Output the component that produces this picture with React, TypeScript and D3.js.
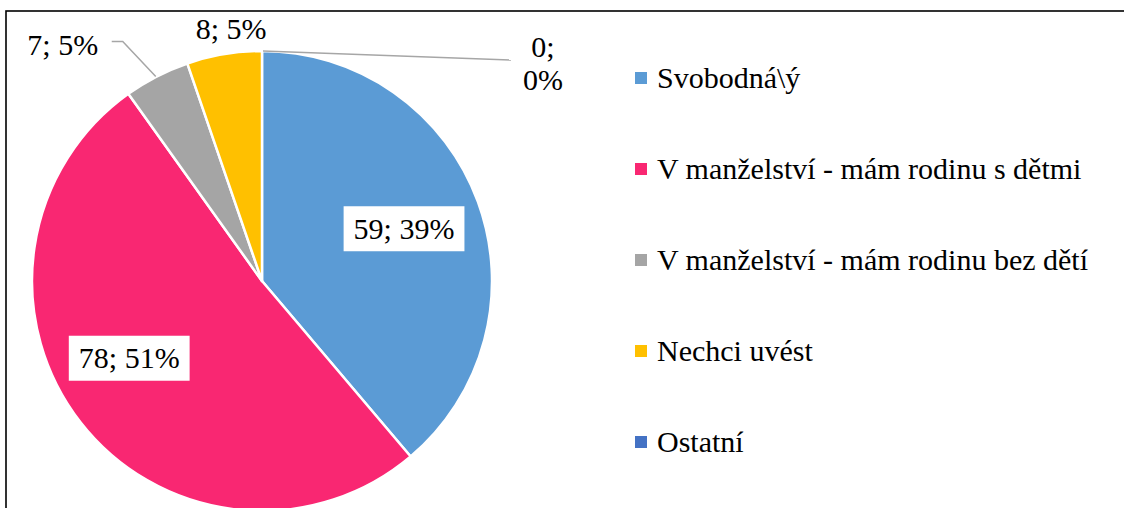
import React, { useEffect, useRef } from 'react';
import * as d3 from 'd3';

// data
const categories = [
  'Svobodná\\ý',
  'V manželství - mám rodinu s dětmi',
  'V manželství - mám rodinu bez dětí',
  'Nechci uvést',
  'Ostatní',
];
const counts = [59, 78, 7, 8, 0];
const percentLabels = ['39%', '51%', '5%', '5%', '0%'];
const colors = ['#5B9BD5', '#F92772', '#A5A5A5', '#FFC000', '#4472C4'];

const W = 1124;
const H = 508;
const FONT = "'Times New Roman', 'Liberation Serif', Tinos, 'DejaVu Serif', serif";

const App = () => {
  const svgRef = useRef<SVGSVGElement>(null);

  useEffect(() => {
    const svg = d3.select(svgRef.current);
    svg.selectAll('*').remove();
    svg.style('font-family', FONT);

    // chart frame (runs off the right and bottom edge)
    svg.append('rect')
      .attr('x', 6)
      .attr('y', 11)
      .attr('width', W + 20)
      .attr('height', H + 20)
      .attr('fill', 'white')
      .attr('stroke', 'black')
      .attr('stroke-width', 1.6);

    const cx = 262;
    const cy = 281;
    const r = 230;

    const data = categories.map((c, i) => ({ name: c, value: counts[i], pct: percentLabels[i], color: colors[i] }));

    const pie = d3.pie<any>()
      .sort(null)
      .value(d => d.value)
      .startAngle(0)
      .endAngle(Math.PI * 2);
    const arcs = pie(data);

    const arc = d3.arc<any>().innerRadius(0).outerRadius(r);

    const g = svg.append('g').attr('transform', `translate(${cx},${cy})`);

    g.selectAll('path.slice')
      .data(arcs.filter(a => a.value > 0))
      .join('path')
      .attr('class', 'slice')
      .attr('d', arc)
      .attr('fill', d => d.data.color)
      .attr('stroke', 'white')
      .attr('stroke-width', 2.5)
      .attr('stroke-linejoin', 'round');

    const pointAt = (angle: number, rad: number) => [Math.sin(angle) * rad, -Math.cos(angle) * rad];
    const mid = (a: any) => (a.startAngle + a.endAngle) / 2;

    // inside labels (white boxes)
    const insideOffsets: Record<number, [number, number]> = { 0: [-0.5, 0], 1: [-13, -16] };
    [0, 1].forEach(i => {
      const a = arcs[i];
      const [px, py] = pointAt(mid(a), r * 0.66);
      const [ox, oy] = insideOffsets[i];
      const lg = g.append('g').attr('transform', `translate(${px + ox},${py + oy})`);
      const t = lg.append('text')
        .attr('text-anchor', 'middle')
        .attr('y', 10)
        .style('font-family', FONT)
        .attr('font-size', 30)
        .attr('fill', 'black')
        .text(`${a.data.value}; ${a.data.pct}`);
      const bb = (t.node() as SVGTextElement).getBBox();
      lg.insert('rect', 'text')
        .attr('x', bb.x - 10)
        .attr('y', -22.5)
        .attr('width', bb.width + 20)
        .attr('height', 45)
        .attr('fill', 'white');
    });

    // outside labels
    const leaderColor = '#A6A6A6';
    // gray slice: leader with elbow
    {
      const a = arcs[2];
      const [ex, ey] = pointAt(mid(a), r);
      g.append('polyline')
        .attr('points', [[ex - 1, ey], [ex - 34, ey - 35], [ex - 45, ey - 35]].map(p => p.join(',')).join(' '))
        .attr('fill', 'none')
        .attr('stroke', leaderColor)
        .attr('stroke-width', 1.5);
      g.append('text')
        .attr('x', ex - 94)
        .attr('y', ey - 22)
        .attr('text-anchor', 'middle')
        .style('font-family', FONT)
        .attr('font-size', 30)
        .text(`${a.data.value}; ${a.data.pct}`);
    }
    // yellow slice: no leader
    {
      const a = arcs[3];
      const [ex, ey] = pointAt(mid(a), r);
      g.append('text')
        .attr('x', ex + 7)
        .attr('y', ey - 15)
        .attr('text-anchor', 'middle')
        .style('font-family', FONT)
        .attr('font-size', 30)
        .text(`${a.data.value}; ${a.data.pct}`);
    }
    // zero slice: long leader, two lines of text
    {
      const a = arcs[4];
      const [ex, ey] = pointAt(a.startAngle, r);
      g.append('line')
        .attr('x1', ex + 1)
        .attr('y1', ey)
        .attr('x2', ex + 249)
        .attr('y2', ey + 9)
        .attr('stroke', leaderColor)
        .attr('stroke-width', 1.5);
      const t = g.append('text')
        .attr('text-anchor', 'middle')
        .style('font-family', FONT)
        .attr('font-size', 30);
      t.append('tspan').attr('x', ex + 281).attr('y', ey + 6).text(`${a.data.value};`);
      t.append('tspan').attr('x', ex + 281).attr('y', ey + 39).text(a.data.pct);
    }

    // legend
    const legendY = d3.scalePoint<string>()
      .domain(categories)
      .range([78, 442]);
    const leg = svg.append('g');
    const rows = leg.selectAll('g.row')
      .data(data)
      .join('g')
      .attr('class', 'row')
      .attr('transform', d => `translate(635,${legendY(d.name)})`);
    rows.append('rect')
      .attr('x', 0)
      .attr('y', -6)
      .attr('width', 12)
      .attr('height', 12)
      .attr('fill', d => d.color);
    rows.append('text')
      .attr('x', 22)
      .attr('y', 10)
      .style('font-family', FONT)
      .attr('font-size', 30)
      .attr('fill', 'black')
      .text(d => d.name);
  }, []);

  return (
    <svg
      ref={svgRef}
      width={W}
      height={H}
      style={{ position: 'absolute', left: 0, top: 0, background: 'white' }}
    />
  );
};

export default App;
